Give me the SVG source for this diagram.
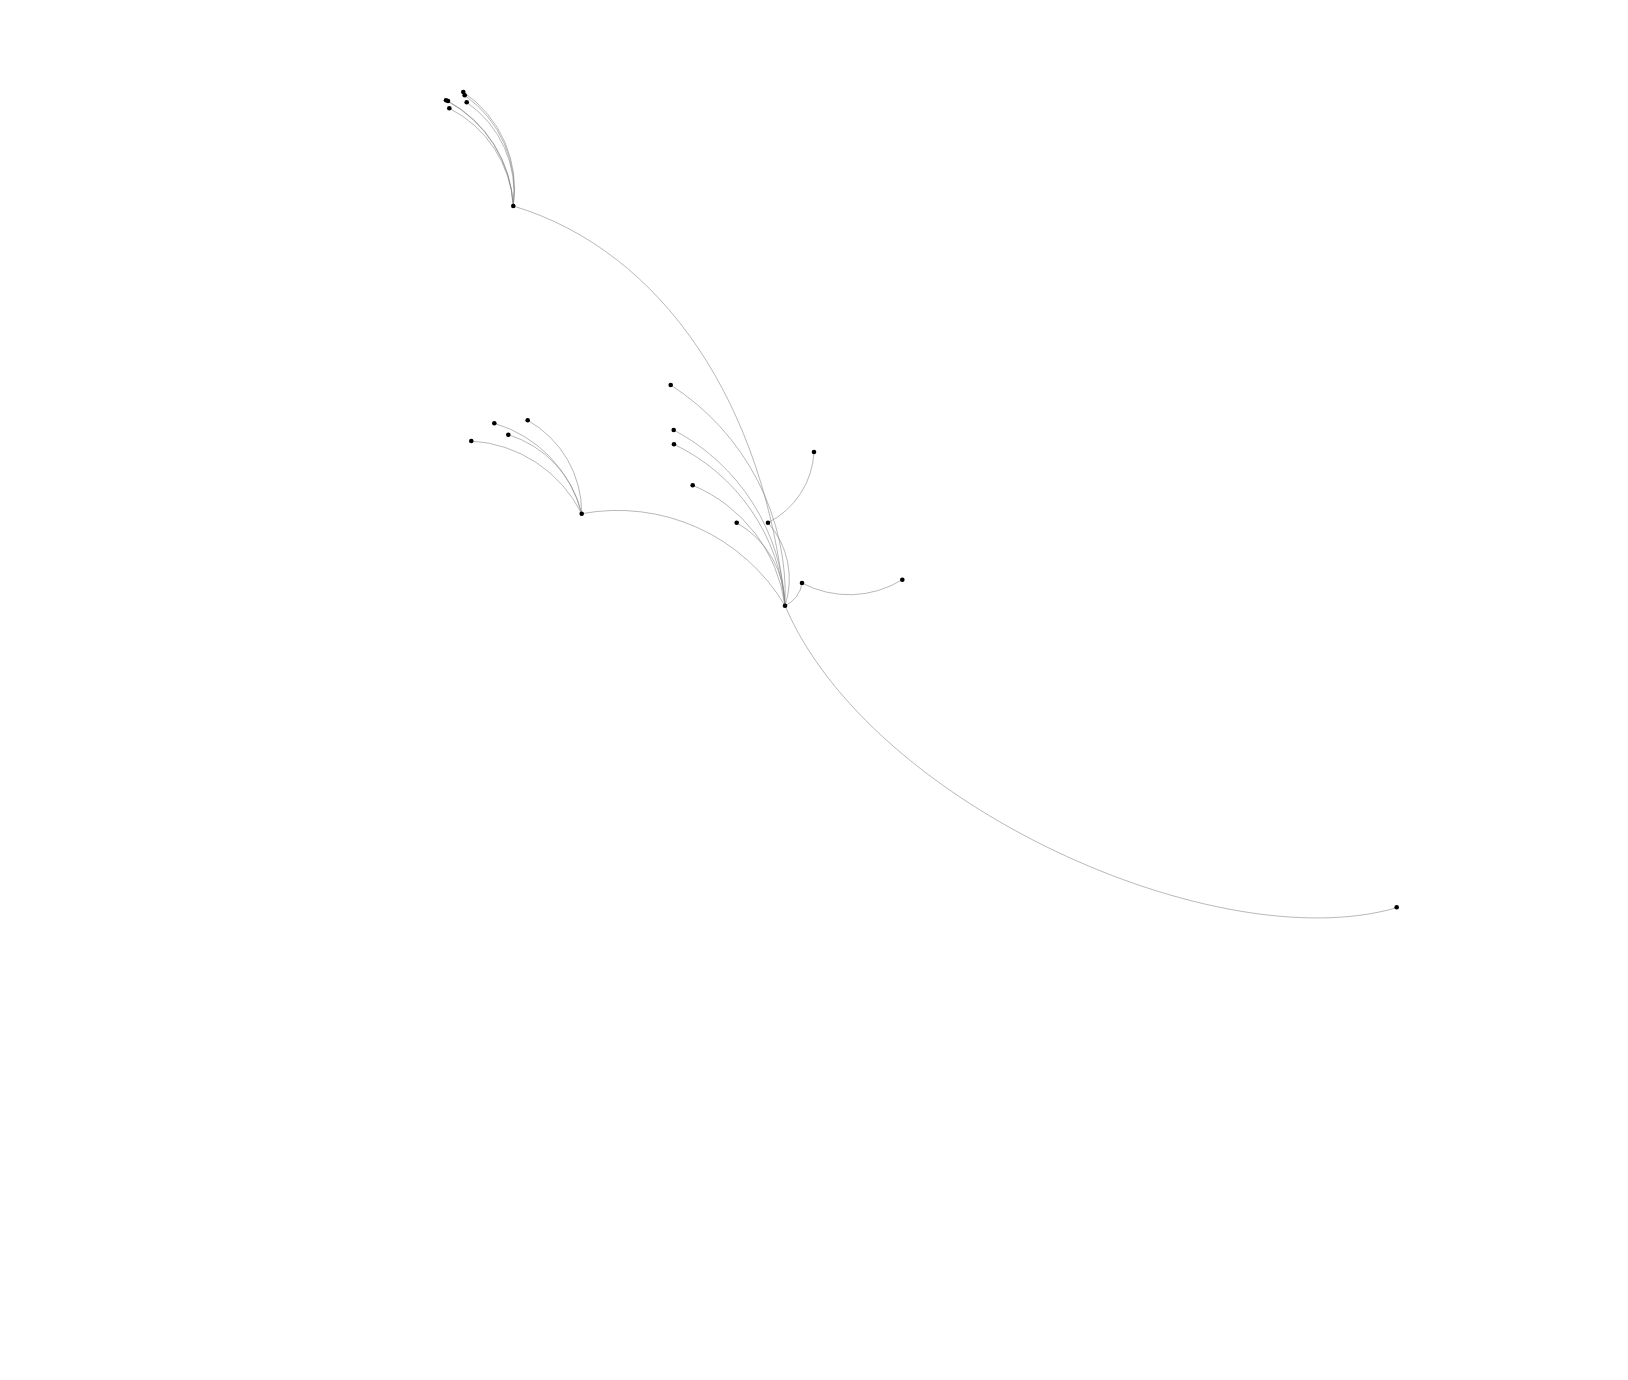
<svg xmlns="http://www.w3.org/2000/svg" width="1628" height="1380" viewBox="0 0 1628 1380">
<style>
.link{fill:none;stroke:#808080;stroke-width:0.7;stroke-opacity:0.8}
.node{fill:#000}
</style>
<rect width="1628" height="1380" fill="#fff"/>
<g id="links">
<path class="link" d="M463.3,92 A117,117 0 0 1 513.3,206"/>
<path class="link" d="M464.7,95.3 A117,117 0 0 1 513.3,206"/>
<path class="link" d="M466.7,102.3 A110,110 0 0 1 513.3,206"/>
<path class="link" d="M446,100.3 A127,127 0 0 1 513.3,206"/>
<path class="link" d="M448,101 A126,126 0 0 1 513.3,206"/>
<path class="link" d="M449.3,108.3 A117,117 0 0 1 513.3,206"/>
<path class="link" d="M513.3,206 C663.3,251 765,405.7 785,605.7"/>
<path class="link" d="M527.7,420.3 A106,106 0 0 1 581.7,513.7"/>
<path class="link" d="M494.3,423.3 A127,127 0 0 1 581.7,513.7"/>
<path class="link" d="M508.3,434.7 A108,108 0 0 1 581.7,513.7"/>
<path class="link" d="M471.3,441 A132,132 0 0 1 581.7,513.7"/>
<path class="link" d="M581.7,513.7 A195,195 0 0 1 785,605.7"/>
<path class="link" d="M670.7,385 A249,249 0 0 1 785,605.7"/>
<path class="link" d="M673.7,430 A209,209 0 0 1 785,605.7"/>
<path class="link" d="M674,444.3 A196,196 0 0 1 785,605.7"/>
<path class="link" d="M692.7,485.3 A152,152 0 0 1 785,605.7"/>
<path class="link" d="M736.7,522.7 A96,96 0 0 1 785,605.7"/>
<path class="link" d="M768,522.7 A85,85 0 0 1 785,605.7"/>
<path class="link" d="M814,452 A84,84 0 0 1 768,522.7"/>
<path class="link" d="M802,583 A29,29 0 0 1 785,605.7"/>
<path class="link" d="M902.3,579.7 A101,101 0 0 1 802,583"/>
<path class="link" d="M785,605.7 C870,805 1216.7,960 1396.7,907.7"/>
</g>
<g id="nodes">
<circle id="n-hub-top" class="node" cx="513.3" cy="206" r="2.3"/>
<circle id="n-t1" class="node" cx="463.3" cy="92" r="2.3"/>
<circle id="n-t2" class="node" cx="464.7" cy="95.3" r="2.3"/>
<circle id="n-t3" class="node" cx="466.7" cy="102.3" r="2.3"/>
<circle id="n-t4" class="node" cx="446" cy="100.3" r="2.3"/>
<circle id="n-t5" class="node" cx="448" cy="101" r="2.3"/>
<circle id="n-t6" class="node" cx="449.3" cy="108.3" r="2.3"/>
<circle id="n-hub-left" class="node" cx="581.7" cy="513.7" r="2.3"/>
<circle id="n-l1" class="node" cx="527.7" cy="420.3" r="2.3"/>
<circle id="n-l2" class="node" cx="494.3" cy="423.3" r="2.3"/>
<circle id="n-l3" class="node" cx="508.3" cy="434.7" r="2.3"/>
<circle id="n-l4" class="node" cx="471.3" cy="441" r="2.3"/>
<circle id="n-hub-main" class="node" cx="785" cy="605.7" r="2.3"/>
<circle id="n-m1" class="node" cx="670.7" cy="385" r="2.3"/>
<circle id="n-m2" class="node" cx="673.7" cy="430" r="2.3"/>
<circle id="n-m3" class="node" cx="674" cy="444.3" r="2.3"/>
<circle id="n-m4" class="node" cx="692.7" cy="485.3" r="2.3"/>
<circle id="n-m5" class="node" cx="736.7" cy="522.7" r="2.3"/>
<circle id="n-m6" class="node" cx="768" cy="522.7" r="2.3"/>
<circle id="n-m7" class="node" cx="814" cy="452" r="2.3"/>
<circle id="n-m8" class="node" cx="802" cy="583" r="2.3"/>
<circle id="n-m9" class="node" cx="902.3" cy="579.7" r="2.3"/>
<circle id="n-far" class="node" cx="1396.7" cy="907.3" r="2.3"/>
</g>
</svg>
